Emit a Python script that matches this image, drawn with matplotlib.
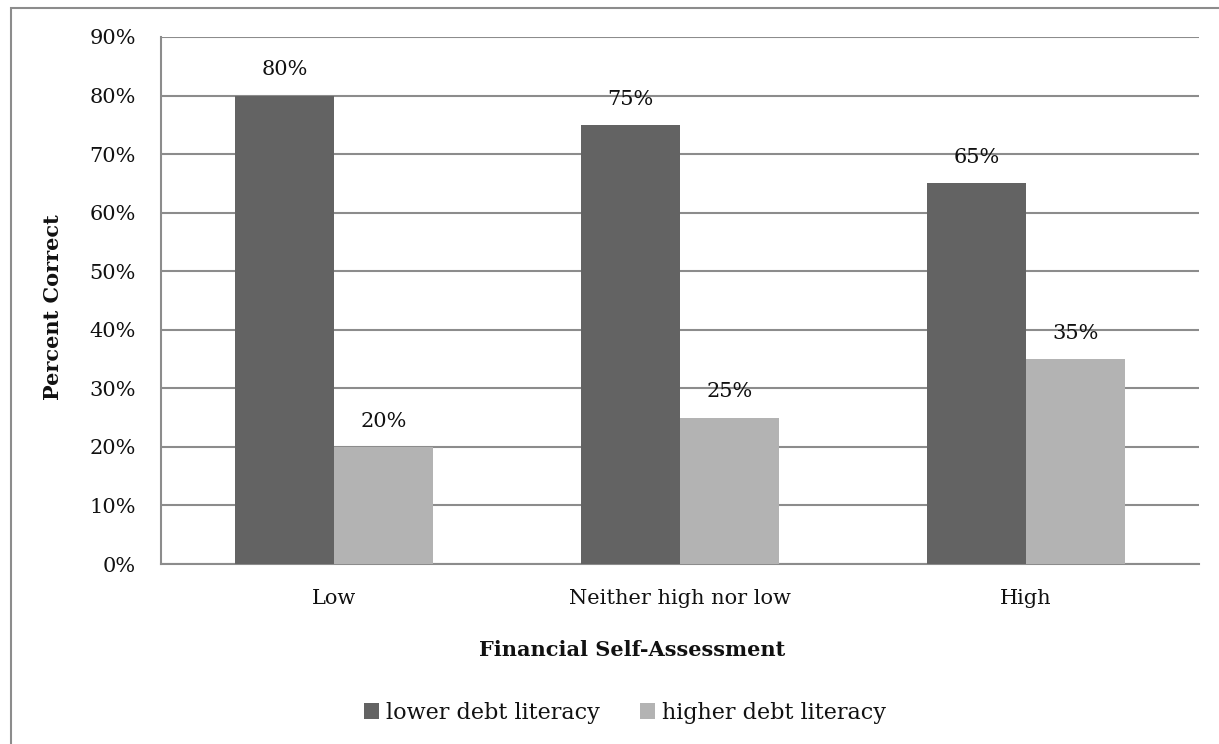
import matplotlib.pyplot as plt
import numpy as np
from matplotlib.patches import Rectangle

# Percent correct by financial self-assessment
categories = ['Low', 'Neither high nor low', 'High']
lower_debt = [80, 75, 65]
higher_debt = [20, 25, 35]
series_names = ['lower debt literacy', 'higher debt literacy']

dark = '#636363'
light = '#b3b3b3'
grid_col = '#8c8c8c'
txt = '#111111'

plt.rcParams['font.family'] = ['DejaVu Serif', 'Liberation Serif']

fig = plt.figure(figsize=(12.19, 7.44), dpi=100)
ax = fig.add_axes([161 / 1219, 1 - 564 / 744, (1199 - 161) / 1219, (564 - 37) / 744])

# outer chart border
fig.patches.append(Rectangle((11 / 1219, -0.01), 1.0, 1 - 8 / 744 + 0.01,
                             transform=fig.transFigure, fill=False,
                             edgecolor='#8c8c8c', linewidth=1.5))

x = np.arange(len(categories))
w = 0.285
b1 = ax.bar(x - w / 2, lower_debt, w, color=dark, label=series_names[0], zorder=3)
b2 = ax.bar(x + w / 2, higher_debt, w, color=light, label=series_names[1], zorder=3)

for bars, vals in ((b1, lower_debt), (b2, higher_debt)):
    for r, v in zip(bars, vals):
        ax.text(r.get_x() + r.get_width() / 2, v + 4.4, f'{v}%', ha='center',
                va='center', fontsize=15, color=txt)

ax.set_xlim(-0.5, 2.5)
ax.set_ylim(0, 90)
ax.set_yticks(range(0, 91, 10))
ax.set_yticklabels([f'{t}%' for t in range(0, 91, 10)])
ax.yaxis.grid(True, color=grid_col, linewidth=1.5, zorder=0)
ax.set_axisbelow(True)
ax.set_xticks(x)
ax.set_xticklabels(categories)
ax.tick_params(axis='both', length=0, labelsize=15, colors=txt)
ax.tick_params(axis='y', pad=18)
ax.tick_params(axis='x', pad=18)

for s in ['top', 'right']:
    ax.spines[s].set_visible(False)
for s in ['left', 'bottom']:
    ax.spines[s].set_color(grid_col)
    ax.spines[s].set_linewidth(1.5)

ax.set_xlabel('Financial Self-Assessment', fontsize=15, fontweight='bold', color=txt)
ax.set_ylabel('Percent Correct', fontsize=15, fontweight='bold', color=txt)
ax.xaxis.set_label_coords((632 - 161) / 1038, -(650 - 564) / 527)
ax.yaxis.set_label_coords(-(161 - 53) / 1038, (564 - 307) / 527)
ax.xaxis.label.set_va('center')
ax.yaxis.label.set_va('center')

fig.legend(loc='center', bbox_to_anchor=(625 / 1219, 1 - 713 / 744), ncol=2,
           frameon=False, fontsize=16, handlelength=0.7, handleheight=0.7,
           handletextpad=0.3, columnspacing=1.8, labelcolor=txt)

fig.savefig('out.png', dpi=100)
